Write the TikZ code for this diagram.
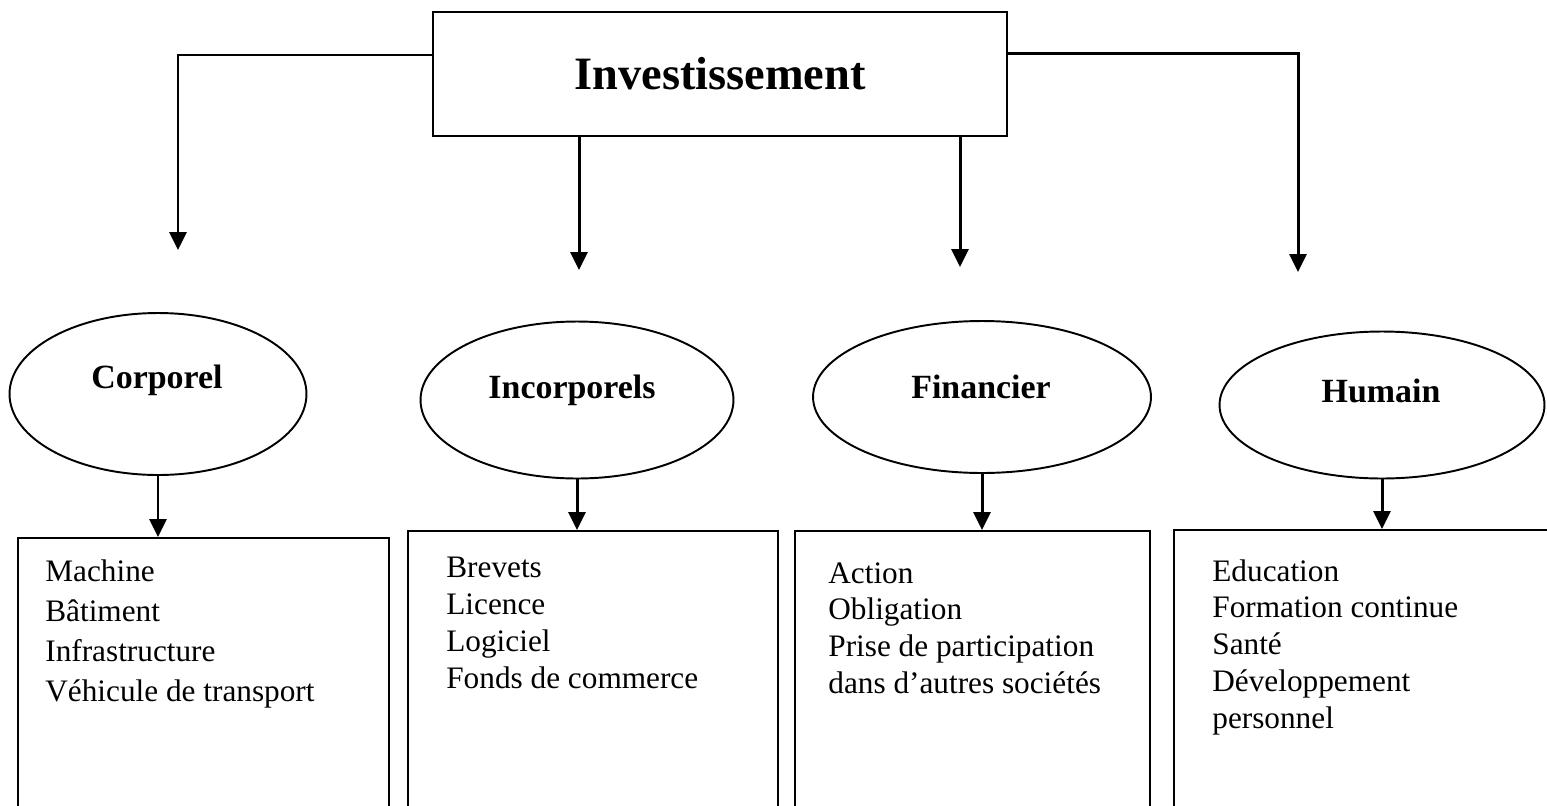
\documentclass[tikz,border=0pt]{standalone}
\usepackage{fontspec}
\setmainfont{Liberation Serif}
\usetikzlibrary{shapes.geometric,arrows.meta,positioning}

\begin{document}
\begin{tikzpicture}[
    x=0.02cm, y=-0.02cm,
    topbox/.style={draw, line width=1.2pt, minimum width=11.48cm, minimum height=2.48cm, font=\fontsize{26.4}{30}\selectfont\bfseries},
    branch/.style={ellipse, draw, line width=1.1pt, inner sep=0pt},
    tag/.style={anchor=base, inner sep=0pt, font=\fontsize{19.3}{22}\selectfont\bfseries},
    listbox/.style={draw, line width=1.2pt, minimum height=6cm, anchor=north west, inner sep=0pt},
    items/.style={align=left, anchor=north west, inner sep=0pt, font=\fontsize{17.8}{21}\selectfont},
    arr/.style={line width=1.7pt, -{Triangle[length=0.36cm, width=0.34cm]}}
]
\useasboundingbox (0,0) rectangle (1547,805);
\clip (0,0) rectangle (1547,805);

% top box
\node[topbox] (inv) at (720,74) {Investissement};

% free ends of the top arrows
\coordinate (t1) at (178,250);
\coordinate (t2) at (579,270);
\coordinate (t3) at (960,267);
\coordinate (t4) at (1298,272);

\draw[arr] ([yshift=0.38cm]inv.west) -| (t1);
\draw[arr] (inv.south -| t2) -- (t2);
\draw[arr] (inv.south -| t3) -- (t3);
\draw[arr] ([yshift=0.42cm]inv.east) -| (t4);

% categories
\node[branch, minimum width=5.94cm, minimum height=3.24cm] (corp) at (158,394) {};
\node[branch, minimum width=6.26cm, minimum height=3.14cm] (incorp) at (577,400) {};
\node[branch, minimum width=6.76cm, minimum height=3.04cm] (fin) at (982,397) {};
\node[branch, minimum width=6.5cm, minimum height=2.94cm] (hum) at (1382,405) {};

\node[tag] (corpT) at (157,388) {Corporel};
\node[tag] (incorpT) at (572,398) {Incorporels};
\node[tag] (finT) at (981,398) {Financier};
\node[tag] (humT) at (1381,402) {Humain};

% lists
\node[listbox, minimum width=7.42cm] (corpB) at (17,537) {};
\node[listbox, minimum width=7.4cm] (incorpB) at (407,530) {};
\node[listbox, minimum width=7.1cm] (finB) at (794,530) {};
\node[listbox, minimum width=7.74cm] (humB) at (1173,529) {};

\draw[arr] (corp.south) -- (corp.south |- corpB.north);
\draw[arr] (incorp.south) -- (incorp.south |- incorpB.north);
\draw[arr] (fin.south) -- (fin.south |- finB.north);
\draw[arr] (hum.south) -- (hum.south |- humB.north);

\node[items, font=\fontsize{17.8}{22.8}\selectfont] (corpI) at (45,559) {Machine\\Bâtiment\\Infrastructure\\Véhicule de transport};
\node[items] (incorpI) at (446,557) {Brevets\\Licence\\Logiciel\\Fonds de commerce};
\node[items] (finI) at (828,562) {Action\\Obligation\\Prise de participation\\dans d’autres sociétés};
\node[items] (humI) at (1212,559) {Education\\Formation continue\\Santé\\Développement\\personnel};
\end{tikzpicture}
\end{document}
